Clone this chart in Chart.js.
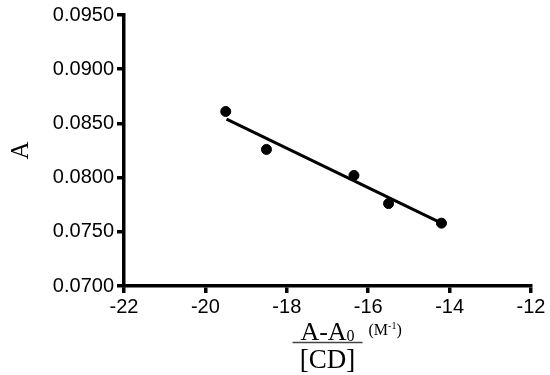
<!DOCTYPE html>
<html>
<head>
<meta charset="utf-8">
<script src="https://cdn.jsdelivr.net/npm/chart.js@4"></script>
<style>
  html, body { margin: 0; padding: 0; background: #fff; }
  #wrap { width: 550px; height: 375px; position: relative; }
</style>
</head>
<body>
<div id="wrap"><canvas id="plot"></canvas></div>
<script>
// measured points: (A-A0)/[CD] vs A
const xValues = [-19.5, -18.5, -16.35, -15.5, -14.2];
const yValues = [0.0861, 0.0826, 0.0802, 0.0776, 0.0758];
// fitted line ends
const fitX = [-19.48, -14.2];
const fitY = [0.0854, 0.0758];
const xTicks = [-22, -20, -18, -16, -14, -12];
const yTicks = [0.0700, 0.0750, 0.0800, 0.0850, 0.0900, 0.0950];

const points = xValues.map((x, i) => ({ x, y: yValues[i] }));
const fit = fitX.map((x, i) => ({ x, y: fitY[i] }));

const serif = '"Liberation Serif", "Times New Roman", serif';

// x-axis title as a fraction: (A-A0)/[CD] (M-1)
const fractionTitle = {
  id: 'fractionTitle',
  afterDraw(chart) {
    const { ctx, chartArea } = chart;
    const cx = (chartArea.left + chartArea.right) / 2;
    ctx.save();
    ctx.fillStyle = '#000';
    ctx.textBaseline = 'alphabetic';
    ctx.font = '26px ' + serif;
    const top = 'A-A';
    const wTop = ctx.measureText(top).width;
    ctx.font = '16px ' + serif;
    const wSub = ctx.measureText('0').width;
    const startX = cx - (wTop + wSub) / 2;
    ctx.font = '26px ' + serif;
    ctx.textAlign = 'left';
    ctx.fillText(top, startX, 340);
    ctx.font = '16px ' + serif;
    ctx.fillText('0', startX + wTop, 341);
    // fraction bar
    ctx.strokeStyle = '#444';
    ctx.lineWidth = 1.5;
    ctx.beginPath();
    ctx.moveTo(cx - 35, 342.5);
    ctx.lineTo(cx + 35, 342.5);
    ctx.stroke();
    ctx.font = '27px ' + serif;
    ctx.textAlign = 'center';
    ctx.fillText('[CD]', cx, 368);
    // unit
    ctx.textAlign = 'left';
    ctx.font = '16px ' + serif;
    const ux = cx + 41;
    ctx.fillText('(M', ux, 335);
    const wM = ctx.measureText('(M').width;
    ctx.font = '10px ' + serif;
    ctx.fillText('-1', ux + wM, 329);
    const w1 = ctx.measureText('-1').width;
    ctx.font = '16px ' + serif;
    ctx.fillText(')', ux + wM + w1, 335);
    ctx.restore();
  }
};

const tickFont = { family: '"Liberation Sans", Arial, sans-serif', size: 20 };

new Chart(document.getElementById('plot'), {
  data: {
    datasets: [
      {
        type: 'line',
        data: fit,
        borderColor: '#000',
        borderWidth: 3,
        pointRadius: 0,
        fill: false
      },
      {
        type: 'scatter',
        data: points,
        backgroundColor: '#000',
        borderColor: '#000',
        pointRadius: 5,
        pointHoverRadius: 5
      }
    ]
  },
  options: {
    responsive: true,
    maintainAspectRatio: false,
    animation: false,
    layout: { padding: { top: 15, right: 19, left: 0, bottom: 0 } },
    plugins: {
      legend: { display: false },
      tooltip: { enabled: false }
    },
    scales: {
      x: {
        type: 'linear',
        min: -22,
        max: -12,
        afterBuildTicks(scale) { scale.ticks = xTicks.map(v => ({ value: v })); },
        afterFit(scale) { scale.height = 89; },
        grid: {
          drawOnChartArea: false,
          drawTicks: true,
          tickLength: 7,
          color: '#000',
          lineWidth: 3.5
        },
        border: { display: true, color: '#000', width: 3.5 },
        ticks: {
          color: '#000',
          font: tickFont,
          padding: 2,
          maxRotation: 0,
          callback: v => String(v)
        }
      },
      y: {
        type: 'linear',
        min: 0.07,
        max: 0.095,
        afterBuildTicks(scale) { scale.ticks = yTicks.map(v => ({ value: v })); },
        afterFit(scale) { scale.width = 124; },
        grid: {
          drawOnChartArea: false,
          drawTicks: true,
          tickLength: 7,
          color: '#000',
          lineWidth: 3.5
        },
        border: { display: true, color: '#000', width: 3.5 },
        ticks: {
          color: '#000',
          font: tickFont,
          padding: 3,
          callback: v => v.toFixed(4)
        },
        title: {
          display: true,
          text: 'A',
          color: '#000',
          font: { family: serif, size: 25 },
          padding: { top: 6, bottom: 0 }
        }
      }
    }
  },
  plugins: [fractionTitle]
});
</script>
</body>
</html>
